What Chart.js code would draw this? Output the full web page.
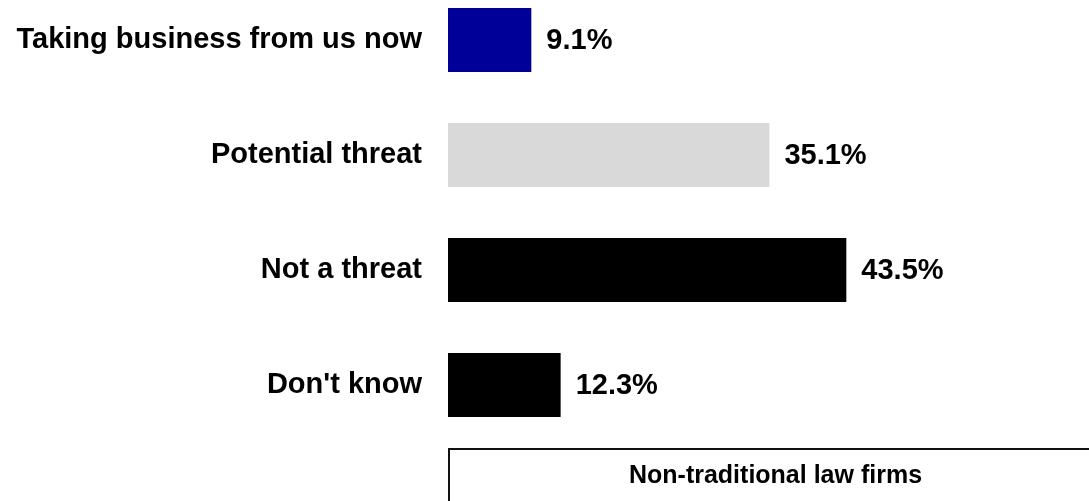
<!DOCTYPE html>
<html>
<head>
<meta charset="utf-8">
<title>Non-traditional law firms</title>
<script src="https://cdn.jsdelivr.net/npm/chart.js@4/dist/chart.umd.min.js"></script>
<style>
  html, body { margin: 0; padding: 0; background: #ffffff; }
  #wrap { width: 1089px; height: 501px; }
</style>
</head>
<body>
<div id="wrap"><canvas id="chart" width="1089" height="501"></canvas></div>
<script>
// Survey answers: how respondents see non-traditional law firms
const categories = ['Taking business from us now', 'Potential threat', 'Not a threat', "Don't know"];
const shares = [9.1, 35.1, 43.5, 12.3];
const axisTitle = 'Non-traditional law firms';

const FONT = '"Liberation Sans", Arial, Helvetica, sans-serif';

// Value label to the right of each bar
const valueLabels = {
  id: 'valueLabels',
  afterDatasetsDraw(chart) {
    const ctx = chart.ctx;
    const meta = chart.getDatasetMeta(0);
    ctx.save();
    ctx.font = 'bold 29px ' + FONT;
    ctx.fillStyle = '#000000';
    ctx.textAlign = 'left';
    ctx.textBaseline = 'middle';
    meta.data.forEach((bar, i) => {
      ctx.fillText(shares[i].toFixed(1) + '%', bar.x + 15, bar.y + 1);
    });
    ctx.restore();
  }
};

// Framed caption under the bars
const captionBox = {
  id: 'captionBox',
  afterDraw(chart) {
    const ctx = chart.ctx;
    const left = chart.chartArea.left;
    const top = chart.chartArea.bottom + 64;
    const boxWidth = 655;
    ctx.save();
    ctx.strokeStyle = '#111111';
    ctx.lineWidth = 2;
    ctx.strokeRect(left + 1, top, boxWidth, 200);
    ctx.font = 'bold 25px ' + FONT;
    ctx.fillStyle = '#000000';
    ctx.textAlign = 'center';
    ctx.textBaseline = 'alphabetic';
    ctx.fillText(axisTitle, left + boxWidth / 2, top + 34);
    ctx.restore();
  }
};

new Chart(document.getElementById('chart'), {
  type: 'bar',
  data: {
    labels: categories,
    datasets: [{
      data: shares,
      backgroundColor: ['#000099', '#d9d9d9', '#000000', '#000000'],
      borderWidth: 0,
      categoryPercentage: 1,
      barPercentage: 0.556,
      clip: false
    }]
  },
  options: {
    indexAxis: 'y',
    responsive: false,
    animation: false,
    devicePixelRatio: 1,
    layout: { padding: { top: 40, right: 0, bottom: 116, left: 0 } },
    plugins: {
      legend: { display: false },
      tooltip: { enabled: false }
    },
    scales: {
      x: {
        display: false,
        min: 0,
        max: 70
      },
      y: {
        offset: false,
        grid: { display: false, drawTicks: false },
        border: { display: false },
        ticks: {
          color: '#000000',
          padding: 26,
          font: { family: FONT, size: 29, weight: 'bold' }
        },
        afterFit(scale) {
          scale.width = 448;
          scale.paddingTop = 0;
          scale.paddingBottom = 0;
        }
      }
    }
  },
  plugins: [valueLabels, captionBox]
});
</script>
</body>
</html>
